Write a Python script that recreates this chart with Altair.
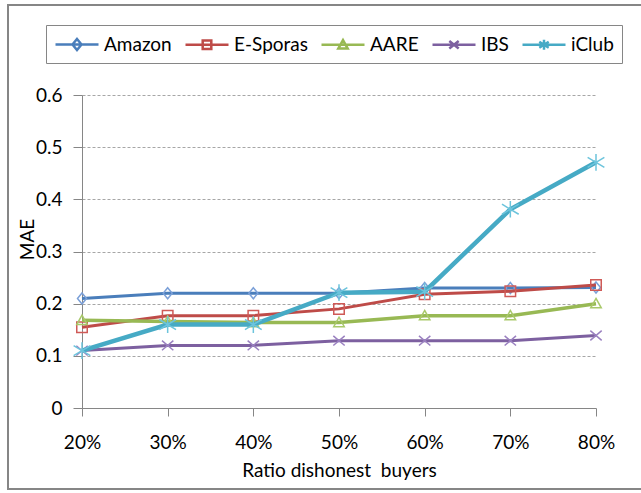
import altair as alt
import pandas as pd

ratios = ["20%", "30%", "40%", "50%", "60%", "70%", "80%"]
series = ["Amazon", "E-Sporas", "AARE", "IBS", "iClub"]
amazon = [0.21, 0.22, 0.22, 0.22, 0.23, 0.23, 0.231]
esporas = [0.155, 0.177, 0.177, 0.19, 0.218, 0.224, 0.236]
aare = [0.168, 0.166, 0.164, 0.164, 0.177, 0.177, 0.2]
ibs = [0.11, 0.12, 0.12, 0.129, 0.129, 0.129, 0.139]
iclub = [0.11, 0.16, 0.16, 0.221, 0.223, 0.381, 0.471]
values = [amazon, esporas, aare, ibs, iclub]

line_colors = ["#4A7EBB", "#BE4B48", "#98B954", "#7D60A0", "#46AAC5"]
marker_colors = ["#7BA0D8", "#CF5A57", "#A9C96B", "#9A80C0", "#6CC4DC"]
line_widths = [3, 3, 3.5, 3, 4.5]
marker_paths = [
    "M0,-1.1L0.9,0L0,1.1L-0.9,0Z",
    "M-1,-1H1V1H-1Z",
    "M0,-1L1,0.8H-1Z",
    "M-1,-0.85L1,0.85M-1,0.85L1,-0.85",
    "M-1,-0.6L1,0.6M-1,0.6L1,-0.6M0,-1L0,1",
]
marker_sizes = [100, 110, 110, 130, 280]
# legend symbols: a line from -1 to 3.3 (43 px at size 400) with the marker at its middle
legend_paths = [
    "M-1,0L3.3,0M1.15,-0.55L1.6,0L1.15,0.55L0.7,0Z",
    "M-1,0L3.3,0M0.72,-0.43H1.58V0.43H0.72Z",
    "M-1,0L3.3,0M1.15,-0.47L1.62,0.38H0.68Z",
    "M-1,0L3.3,0M0.68,-0.38L1.62,0.38M0.68,0.38L1.62,-0.38",
    "M-1,0L3.3,0M0.68,-0.3L1.62,0.3M0.68,0.3L1.62,-0.3M1.15,-0.5L1.15,0.5",
]

rows = []
for s, vals in zip(series, values):
    for r, v in zip(ratios, vals):
        rows.append({"ratio": r, "series": s, "value": v})
df = pd.DataFrame(rows)

W, H = 514, 313
PL, PT = 82, 95
FS = 19

xenc = alt.X(
    "ratio:O",
    sort=ratios,
    scale=alt.Scale(type="point", domain=ratios, padding=0),
    axis=alt.Axis(
        title="Ratio dishonest\u00a0 buyers",
        labelAngle=0,
        tickSize=8,
        labelPadding=17,
        labelBaseline="top",
        grid=False,
        titleY=68,
        titleBaseline="alphabetic",
    ),
)
yenc = alt.Y(
    "value:Q",
    scale=alt.Scale(domain=[0, 0.6], nice=False),
    axis=alt.Axis(
        title="MAE",
        values=[0, 0.1, 0.2, 0.3, 0.4, 0.5, 0.6],
        format="~g",
        tickSize=9,
        labelPadding=11,
        grid=True,
        gridDash=[3, 2],
        gridColor="#A6A6A6",
        titleX=-49,
        titleY=144,
        titleAlign="center",
        titleBaseline="alphabetic",
        titleAngle=-90,
    ),
)

border = alt.Chart(pd.DataFrame({"a": [0]})).mark_rect(
    fillOpacity=0, stroke="#868686", strokeWidth=2
).encode(
    x=alt.value(8 - PL),
    x2=alt.value(646 - PL),
    y=alt.value(5 - PT),
    y2=alt.value(489 - PT),
)

layers = [border]
for i, s in enumerate(series):
    sub = df[df["series"] == s]
    base = alt.Chart(sub).encode(x=xenc, y=yenc)
    layers.append(base.mark_line(color=line_colors[i], strokeWidth=line_widths[i]))
    layers.append(
        base.mark_point(
            shape=marker_paths[i],
            size=marker_sizes[i],
            color=marker_colors[i],
            filled=False,
            strokeWidth=1.5,
            opacity=1,
        )
    )

leg = alt.Legend(
    title=None,
    orient="none",
    legendX=46 - PL,
    legendY=25 - PT,
    direction="horizontal",
)
legend_layer = alt.Chart(df).mark_point(filled=False, opacity=0).encode(
    x=xenc,
    y=yenc,
    color=alt.Color("series:N", sort=series, scale=alt.Scale(domain=series, range=line_colors), legend=leg),
    shape=alt.Shape("series:N", sort=series, scale=alt.Scale(domain=series, range=legend_paths), legend=leg),
)
layers.append(legend_layer)

chart = (
    alt.layer(*layers)
    .properties(
        width=W,
        height=H,
        autosize=alt.AutoSizeParams(type="none"),
        padding={"left": PL, "top": PT, "right": 641 - PL - W, "bottom": 493 - PT - H},
        background="white",
    )
    .configure_view(stroke=None)
    .configure_axis(
        labelFont="Lato",
        labelFontSize=FS,
        labelColor="#000000",
        titleFont="Lato",
        titleFontSize=FS,
        titleFontWeight="normal",
        titleColor="#000000",
        domainColor="#868686",
        tickColor="#868686",
    )
    .configure_legend(
        labelFont="Lato",
        labelFontSize=FS,
        labelColor="#000000",
        symbolSize=400,
        symbolStrokeWidth=2.5,
        symbolOpacity=1,
        symbolFillColor="white",
        strokeColor="#868686",
        fillColor="white",
        padding=8,
        columnPadding=8,
        labelOffset=27,
    )
)

chart.save("out.html", embed_options={"renderer": "svg", "actions": False})
